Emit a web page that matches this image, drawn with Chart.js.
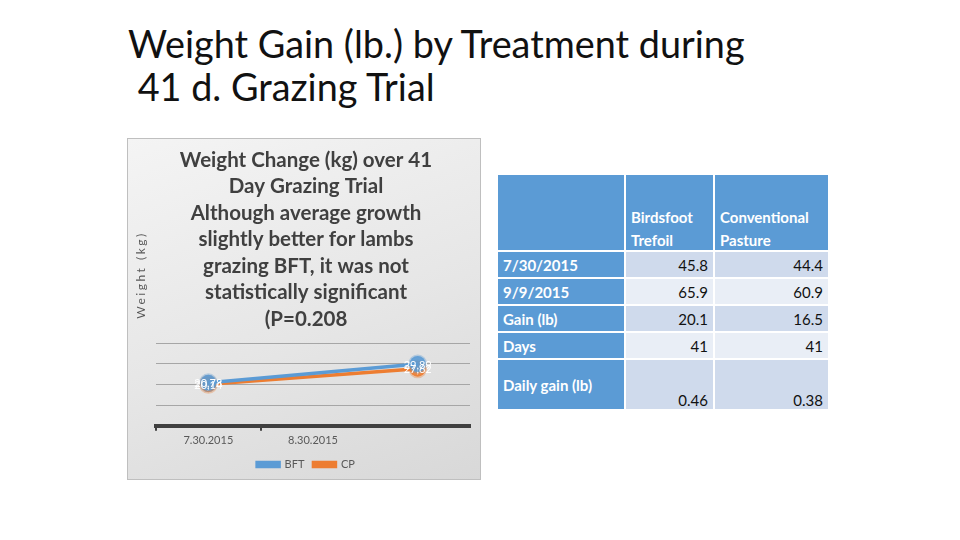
<!DOCTYPE html>
<html>
<head>
<meta charset="utf-8">
<script src="https://cdn.jsdelivr.net/npm/chart.js@4"></script>
<style>
  body { margin: 0; width: 960px; height: 540px; background: #fff; position: relative; overflow: hidden; font-family: Lato, "Open Sans", sans-serif; }
  #title { position: absolute; left: 128px; top: 22px; font-size: 37.8px; line-height: 43px; color: #111; white-space: pre; }
  #panel { position: absolute; left: 127px; top: 138px; width: 354px; height: 342px; border: 1px solid #bfbfbf; box-sizing: border-box;
           background: linear-gradient(160deg, #f4f4f4 0%, #e6e6e6 55%, #d8d8d8 100%); }
  #tbl { position: absolute; left: 496px; top: 173px; border-collapse: separate; border-spacing: 2px; font-size: 15px; }
  #tbl td { padding: 0 5px; height: 25px; line-height: 18px; }
  #tbl td.lab { background: #5b9bd5; color: #fff; font-weight: bold; width: 116px; }
  #tbl tr.head td { background: #5b9bd5; color: #fff; font-weight: bold; height: 75px; vertical-align: bottom; padding-bottom: 0; line-height: 23px; }
  #tbl tr.head td div { position: relative; top: 2px; }
  #tbl td.num { text-align: right; color: #111; }
  #tbl tr.dark td.num { background: #cfdaec; }
  #tbl tr.light td.num { background: #e9eef6; }
  #tbl tr.tall td { height: 49px; }
  #tbl tr.tall td.lab { vertical-align: middle; }
  #tbl tr.tall td.num { vertical-align: bottom; }
</style>
</head>
<body>
<div id="title">Weight Gain (lb.) by Treatment during
 41 d. Grazing Trial</div>
<div id="panel"><canvas id="weight-Chart" width="354" height="342"></canvas></div>
<table id="tbl"></table>
<script>
// chart data (kg)
const categories = ["7.30.2015", "8.30.2015", ""];
const bftKg = [20.78, null, 29.89];
const cpKg = [20.14, null, 27.62];
const chartTitle = [
  "Weight Change (kg) over 41",
  "Day Grazing Trial",
  "Although average growth",
  "slightly better for lambs",
  "grazing BFT, it was not",
  "statistically significant",
  "(P=0.208",
];

// table data (lb)
const colHeads = ["Birdsfoot\nTrefoil", "Conventional\nPasture"];
const rowLabels = ["7/30/2015", "9/9/2015", "Gain (lb)", "Days", "Daily gain (lb)"];
const bftLb = ["45.8", "65.9", "20.1", "41", "0.46"];
const cpLb = ["44.4", "60.9", "16.5", "41", "0.38"];

const tbl = document.getElementById("tbl");
let html = '<tr class="head"><td class="lab"></td>' +
  colHeads.map(h => '<td style="width:77px"><div>' + h.replace("\n", "<br>") + "</div></td>").join("") + "</tr>";
rowLabels.forEach((r, i) => {
  const cls = (i % 2 === 0 ? "dark" : "light") + (i === rowLabels.length - 1 ? " tall" : "");
  html += '<tr class="' + cls + '"><td class="lab">' + r + '</td><td class="num">' + bftLb[i] +
    '</td><td class="num" style="width:103px">' + cpLb[i] + "</td></tr>";
});
tbl.innerHTML = html;

// white value labels on the points
const valueLabels = {
  id: "valueLabels",
  afterDatasetsDraw(chart) {
    const c = chart.ctx;
    c.save();
    c.font = "11px Lato";
    c.fillStyle = "#ffffff";
    c.textAlign = "center";
    c.textBaseline = "middle";
    chart.data.datasets.forEach((ds, di) => {
      chart.getDatasetMeta(di).data.forEach((pt, i) => {
        if (ds.data[i] == null) return;
        c.fillText(ds.data[i].toFixed(2).replace(".", ","), pt.x, pt.y + 1);
      });
    });
    c.restore();
  },
};

// y axis title sits beside the chart title, not centred on the plot
const yTitle = {
  id: "yTitle",
  afterDraw(chart) {
    const c = chart.ctx;
    c.save();
    c.translate(13, 136);
    c.rotate(-Math.PI / 2);
    c.font = "12px Lato";
    c.letterSpacing = "2.5px";
    c.fillStyle = "#595959";
    c.textAlign = "center";
    c.textBaseline = "middle";
    c.fillText("Weight (kg)", 0, 0);
    c.restore();
  },
};

const ctx = document.getElementById("weight-Chart");
const chart = new Chart(ctx, {
  type: "line",
  data: {
    labels: categories,
    datasets: [
      {
        label: "BFT",
        data: bftKg,
        borderColor: "#5b9bd5",
        backgroundColor: "#5b9bd5",
        pointBackgroundColor: "rgba(91,155,213,0.9)",
        pointBorderColor: "rgba(91,155,213,0.35)",
        borderWidth: 3.5,
        pointRadius: 8,
        pointBorderWidth: 3,
        spanGaps: true,
      },
      {
        label: "CP",
        data: cpKg,
        borderColor: "#ed7d31",
        backgroundColor: "#ed7d31",
        pointBackgroundColor: "rgba(237,125,49,0.9)",
        pointBorderColor: "rgba(237,125,49,0.35)",
        borderWidth: 3.5,
        pointRadius: 8,
        pointBorderWidth: 3,
        spanGaps: true,
      },
    ],
  },
  options: {
    responsive: false,
    animation: false,
    layout: { padding: { left: 14, right: 12, top: 0, bottom: 1 } },
    plugins: {
      title: {
        display: true,
        text: chartTitle,
        color: "#404040",
        font: { family: "Lato", size: 20.5, weight: "bold", lineHeight: 1.29 },
        padding: { top: 8, bottom: 11 },
      },
      legend: {
        position: "bottom",
        labels: {
          color: "#595959",
          font: { family: "Lato", size: 11 },
          boxWidth: 22,
          boxHeight: 4,
          padding: 9,
        },
      },
      tooltip: { enabled: false },
    },
    scales: {
      x: {
        offset: true,
        grid: {
          offset: true,
          drawOnChartArea: false,
          tickLength: 5,
          lineWidth: 2,
          color: (c) => (c.index < 2 ? "#404040" : "transparent"),
        },
        border: { color: "#404040", width: 4 },
        ticks: { color: "#595959", font: { family: "Lato", size: 11 }, padding: 3 },
      },
      y: {
        min: 0,
        max: 40,
        afterFit: (scale) => { scale.width = 14; },
        ticks: { display: false, stepSize: 10 },
        grid: { color: "#a6a6a6", lineWidth: 1, drawTicks: false },
        border: { display: false },
      },
    },
  },
  plugins: [valueLabels, yTitle],
});
</script>
</body>
</html>
